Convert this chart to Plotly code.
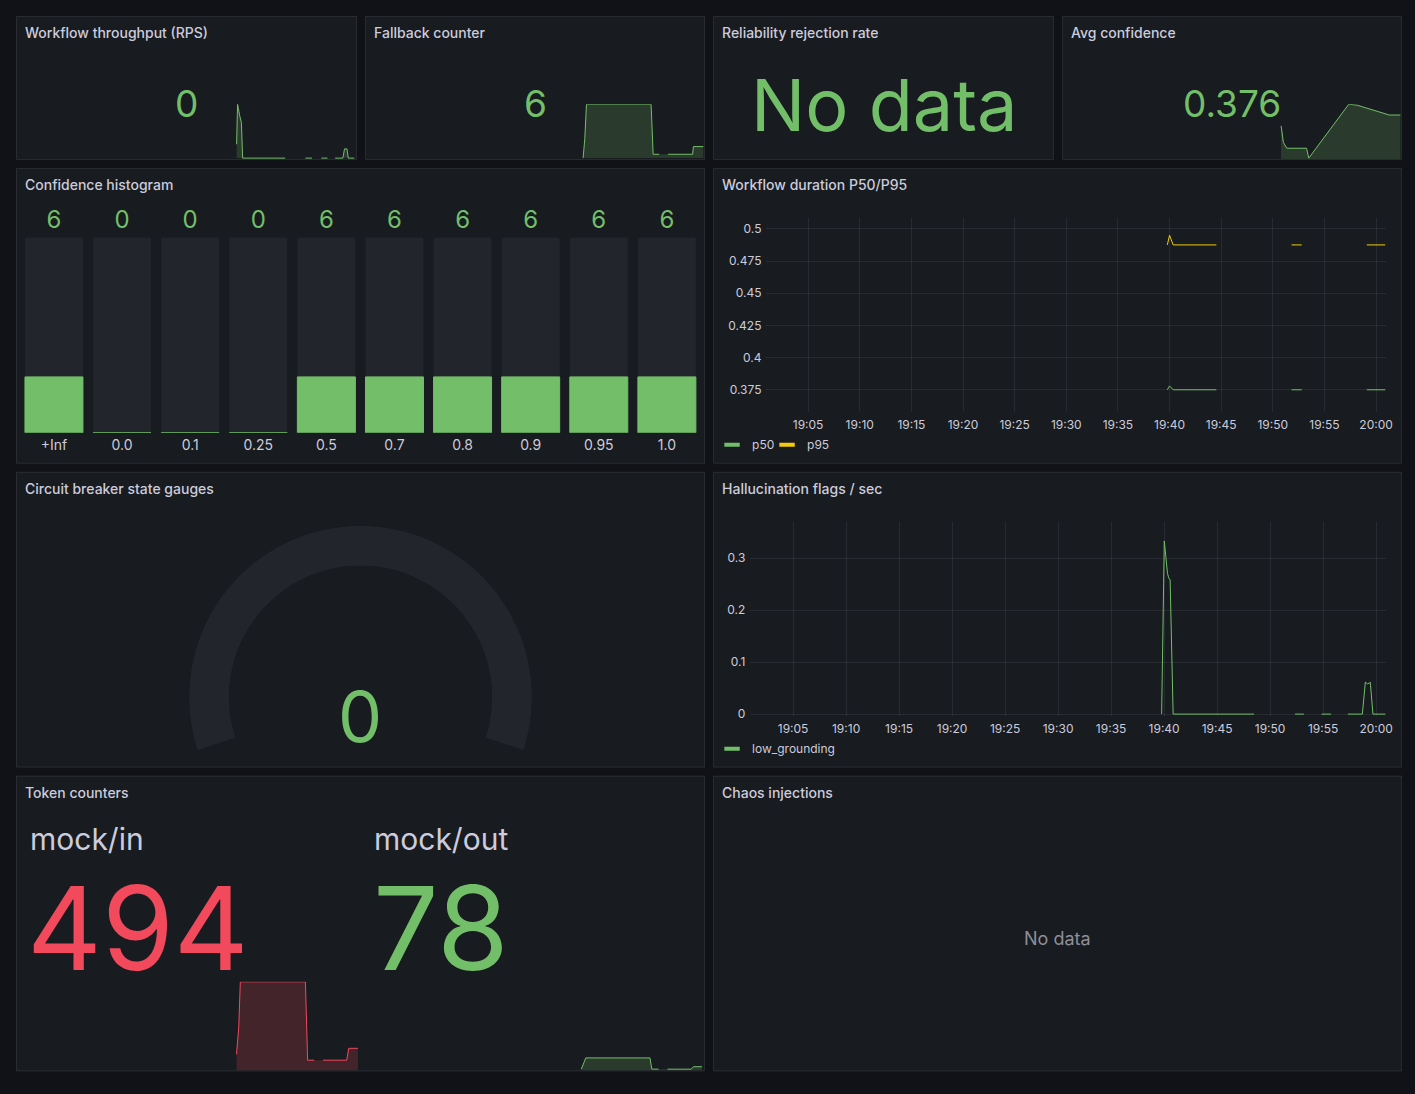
import plotly.graph_objects as go

W, H = 1415, 1094
DAY = "2024-05-01 "

# ------------------------------------------------------------------ data
time_window = ["19:00:58", "20:00:58"]

# Workflow throughput (RPS) sparkline
thr_time = ["19:39:50", "19:40:00", "19:40:23", "19:40:41", "19:40:54", "19:48:25",
            "19:50:00", "19:52:00", "19:53:10", "19:54:00", "19:54:50", "19:55:55",
            "19:56:30", "19:57:16", "19:58:38", "19:58:56", "19:59:22", "19:59:36", "20:00:40"]
thr_vals = [0.09, 0.35, 0.275, 0.23, 0, 0,
            None, 0, 0, None, 0, 0,
            None, 0, 0, 0.06, 0.06, 0, 0]

# Fallback counter sparkline
fb_time = ["19:39:30", "19:39:48", "19:40:06", "19:51:34", "19:51:56", "19:53:00",
           "19:54:00", "19:54:35", "19:58:56", "19:59:05", "20:00:51"]
fb_vals = [0, 10, 28, 28, 2, 2, None, 2, 2, 6, 6]

# Avg confidence sparkline
ac_time = ["19:39:40", "19:40:05", "19:40:41", "19:44:11", "19:44:35", "19:51:41",
           "19:53:09", "19:58:53", "20:00:51"]
ac_vals = [0.352, 0.315, 0.302, 0.302, 0.28, 0.40, 0.398, 0.376, 0.376]

# Confidence histogram (bar gauge)
hist_buckets = ["+Inf", "0.0", "0.1", "0.25", "0.5", "0.7", "0.8", "0.9", "0.95", "1.0"]
hist_counts = [6, 0, 0, 0, 6, 6, 6, 6, 6, 6]
hist_scale_max = 21

# Workflow duration P50/P95
dur_time = ["19:39:47", "19:40:00", "19:40:21", "19:44:32", "19:48:00", "19:51:49",
            "19:52:48", "19:56:00", "19:59:06", "20:00:53"]
dur_p50 = [0.375, 0.378, 0.375, 0.375, None, 0.375, 0.375, None, 0.375, 0.375]
dur_p95 = [0.4875, 0.495, 0.4875, 0.4875, None, 0.4875, 0.4875, None, 0.4875, 0.4875]

# Hallucination flags / sec
hf_time = ["19:39:46", "19:40:01", "19:40:19", "19:40:26", "19:40:34", "19:40:51",
           "19:48:29", "19:50:00", "19:52:21", "19:53:11", "19:54:00", "19:54:51",
           "19:55:45", "19:56:30", "19:57:20", "19:58:42", "19:58:59", "19:59:12",
           "19:59:27", "19:59:42", "20:00:52"]
hf_low_grounding = [0, 0.333, 0.271, 0.262, 0.258, 0,
                    0, None, 0, 0, None, 0,
                    0, None, 0, 0, 0.0615, 0.058,
                    0.061, 0, 0]

# Circuit breaker gauge
gauge_value = 0
gauge_min, gauge_max = 0, 1

# Token counters
tok_in_time = ["19:39:22", "19:39:45", "19:40:02", "19:51:25", "19:51:48", "19:52:58",
               "19:54:00", "19:54:30", "19:58:38", "19:59:00", "20:00:36"]
tok_in_vals = [360, 963, 2000, 2000, 225, 225, None, 225, 225, 494, 494]
tok_out_time = ["19:39:30", "19:39:54", "19:40:17", "19:51:31", "19:51:50", "19:53:00",
                "19:54:00", "19:54:35", "19:58:44", "19:59:07", "20:00:36"]
tok_out_vals = [22, 174, 277, 277, 22, 22, None, 22, 22, 78, 78]

# ------------------------------------------------------------------ style
BG = "#111217"
PANEL = "#181b1f"
BORDER = "rgba(204,204,220,0.12)"
TXT = "#ccccdc"
MUTED = "#8e8e9a"
GREEN = "#73bf69"
RED = "#f2495c"
YELLOW = "#f2cc0c"
GRID = "rgba(204,204,220,0.09)"
TRACK = "#22252b"
FONT = "Inter, Roboto, sans-serif"

# the captured page comes out very slightly shrunk; compensate in the px->paper mapping
S = 0.995
WE, HE = W * S, H * S


def X(p):
    return p / WE


def Y(p):
    return 1 - p / HE


def ts(lst):
    return [DAY + t for t in lst]


def last_value(vals):
    return [v for v in vals if v is not None][-1]


def names(n):
    if n == 1:
        return "xaxis", "yaxis", "x", "y"
    return f"xaxis{n}", f"yaxis{n}", f"x{n}", f"y{n}"


fig = go.Figure()
axes = {}
shapes = []
annotations = []

panels = [
    (16, 16, 357, 160, "Workflow throughput (RPS)"),
    (365, 16, 705, 160, "Fallback counter"),
    (713, 16, 1054, 160, "Reliability rejection rate"),
    (1062, 16, 1402, 160, "Avg confidence"),
    (16, 168, 705, 464, "Confidence histogram"),
    (713, 168, 1402, 464, "Workflow duration P50/P95"),
    (16, 472, 705, 768, "Circuit breaker state gauges"),
    (713, 472, 1402, 768, "Hallucination flags / sec"),
    (16, 776, 705, 1072, "Token counters"),
    (713, 776, 1402, 1072, "Chaos injections"),
]
for x0, y0, x1, y1, title in panels:
    shapes.append(dict(type="rect", xref="paper", yref="paper",
                       x0=X(x0 + 0.5), x1=X(x1 - 0.5), y0=Y(y1 - 0.5), y1=Y(y0 + 0.5),
                       fillcolor=PANEL, line=dict(color=BORDER, width=1), layer="below"))
    annotations.append(dict(text=title, xref="paper", yref="paper",
                            x=X(x0 + 7), y=Y(y0 + 17), xanchor="left", yanchor="middle",
                            showarrow=False, font=dict(family=FONT, size=14, color=TXT, weight=500)))


def text(s, x, y, size, color, xanchor="center", weight=400):
    annotations.append(dict(text=s, xref="paper", yref="paper", x=X(x), y=Y(y),
                            xanchor=xanchor, yanchor="middle", showarrow=False,
                            font=dict(family=FONT, size=size, color=color, weight=weight)))


def fmt(v):
    return f"{v:g}"


def spark(n, times, vals, color, fill, box, lo, hi):
    # box = (left, top, right, bottom) in pixels
    xa, ya, xr, yr = names(n)
    fig.add_trace(go.Scatter(x=ts(times), y=vals, mode="lines",
                             line=dict(color=color, width=1), fill="tozeroy",
                             fillcolor=fill, connectgaps=False, hoverinfo="skip",
                             showlegend=False, xaxis=xr, yaxis=yr))
    pad = (hi - lo) * 0.015
    axes[xa] = dict(domain=[X(box[0]), X(box[2])], range=ts(time_window), type="date",
                    visible=False, anchor=yr, fixedrange=True)
    axes[ya] = dict(domain=[Y(box[3]), Y(box[1])], range=[lo - pad, hi], visible=False,
                    anchor=xr, fixedrange=True)


GFILL = "rgba(115,191,105,0.2)"
RFILL = "rgba(242,73,92,0.2)"

# --- stat panels
thr_nums = [v for v in thr_vals if v is not None]
spark(1, thr_time, thr_vals, GREEN, GFILL, (17, 104.3, 356, 159), min(thr_nums), max(thr_nums))
text(fmt(last_value(thr_vals)), 186, 104, 37, GREEN)

fb_nums = [v for v in fb_vals if v is not None]
spark(2, fb_time, fb_vals, GREEN, GFILL, (366, 104.3, 704, 159), min(fb_nums), max(fb_nums))
text(fmt(last_value(fb_vals)), 535, 104, 37, GREEN)

text("No data", 884, 105, 72, GREEN)

spark(3, ac_time, ac_vals, GREEN, GFILL, (1063, 104.3, 1401, 159), min(ac_vals), max(ac_vals))
text(fmt(last_value(ac_vals)), 1232, 104, 37, GREEN)

# --- confidence histogram (bar gauge)
fig.add_trace(go.Bar(x=hist_buckets, y=[hist_scale_max] * len(hist_buckets),
                     marker=dict(color=TRACK, cornerradius=2, line=dict(width=0)),
                     text=[str(v) for v in hist_counts], textposition="outside",
                     textfont=dict(family=FONT, size=24, color=GREEN),
                     cliponaxis=False, hoverinfo="skip", showlegend=False,
                     xaxis="x4", yaxis="y4"))
fig.add_trace(go.Bar(x=hist_buckets, y=hist_counts,
                     marker=dict(color=GREEN, cornerradius=2, line=dict(width=1, color=GREEN)),
                     cliponaxis=False, hoverinfo="skip", showlegend=False,
                     xaxis="x4", yaxis="y4"))
axes["xaxis4"] = dict(domain=[X(19.9), X(700.9)], type="category", anchor="y4",
                      showgrid=False, zeroline=False, showline=False, ticks="",
                      tickfont=dict(family=FONT, size=14, color=TXT), ticklabelstandoff=2,
                      fixedrange=True)
axes["yaxis4"] = dict(domain=[Y(433), Y(237.3)], range=[0, hist_scale_max], visible=False,
                      anchor="x4", fixedrange=True)

# --- workflow duration
fig.add_trace(go.Scatter(x=ts(dur_time), y=dur_p50, mode="lines", line=dict(color=GREEN, width=1),
                         connectgaps=False, showlegend=False, xaxis="x5", yaxis="y5"))
fig.add_trace(go.Scatter(x=ts(dur_time), y=dur_p95, mode="lines", line=dict(color=YELLOW, width=1),
                         connectgaps=False, showlegend=False, xaxis="x5", yaxis="y5"))
for nm, col, lg in (("p50", GREEN, "legend"), ("p95", YELLOW, "legend3")):
    fig.add_trace(go.Scatter(x=[None], y=[None], mode="markers", name=nm,
                             marker=dict(symbol="line-ew", size=11, color=col,
                                         line=dict(width=4, color=col)),
                             legend=lg, xaxis="x5", yaxis="y5"))

time_axis = dict(type="date", range=ts(time_window), tickformat="%H:%M", dtick=300000,
                 tick0=DAY + "19:00:00", showgrid=True, gridcolor=GRID, gridwidth=1,
                 zeroline=False, showline=False, ticks="",
                 tickfont=dict(family=FONT, size=12, color=TXT), fixedrange=True)
val_axis = dict(showgrid=True, gridcolor=GRID, gridwidth=1, zeroline=False, showline=False,
                ticks="", tickfont=dict(family=FONT, size=12, color=TXT), fixedrange=True)

axes["xaxis5"] = dict(time_axis, domain=[X(766.4), X(1386)], anchor="y5", ticklabelstandoff=4)
axes["yaxis5"] = dict(val_axis, domain=[Y(412), Y(218)], range=[0.3579, 0.5085],
                      dtick=0.025, tick0=0, anchor="x5", ticklabelstandoff=4)

# --- hallucination flags
fig.add_trace(go.Scatter(x=ts(hf_time), y=hf_low_grounding, mode="lines",
                         line=dict(color=GREEN, width=1), connectgaps=False,
                         showlegend=False, xaxis="x6", yaxis="y6"))
fig.add_trace(go.Scatter(x=[None], y=[None], mode="markers", name="low_grounding",
                         marker=dict(symbol="line-ew", size=11, color=GREEN,
                                     line=dict(width=4, color=GREEN)),
                         legend="legend2", xaxis="x6", yaxis="y6"))
axes["xaxis6"] = dict(time_axis, domain=[X(750.3), X(1386.3)], anchor="y6", ticklabelstandoff=4)
axes["yaxis6"] = dict(val_axis, domain=[Y(716), Y(522)], range=[-0.003, 0.37],
                      dtick=0.1, tick0=0, anchor="x6", ticklabelstandoff=4)

# --- circuit breaker gauge
arc_span = 216
arc_start = 198
fig.add_trace(go.Barpolar(r=[1], theta=[90], width=[arc_span],
                          marker=dict(color=TRACK, line=dict(width=0)),
                          hoverinfo="skip", showlegend=False, subplot="polar"))
frac = (gauge_value - gauge_min) / (gauge_max - gauge_min)
if frac > 0:
    fig.add_trace(go.Barpolar(r=[1], theta=[arc_start - arc_span * frac / 2],
                              width=[arc_span * frac],
                              marker=dict(color=GREEN, line=dict(width=0)),
                              hoverinfo="skip", showlegend=False, subplot="polar"))
text(fmt(gauge_value), 360, 717, 70, GREEN)

# --- token counters
tok_all = [v for v in tok_in_vals + tok_out_vals if v is not None]
spark(7, tok_in_time, tok_in_vals, RED, RFILL, (17, 982.3, 360, 1071), min(tok_all), max(tok_all))
spark(8, tok_out_time, tok_out_vals, GREEN, GFILL, (361, 982.3, 704, 1071), min(tok_all), max(tok_all))
text("mock/in", 28, 839, 30, TXT, xanchor="left")
text("mock/out", 372, 839, 30, TXT, xanchor="left")
text(fmt(last_value(tok_in_vals)), 25, 928, 116, RED, xanchor="left")
text(fmt(last_value(tok_out_vals)), 371, 928, 116, GREEN, xanchor="left")

# --- chaos injections
text("No data", 1057, 939, 18, MUTED)

legend_style = dict(xanchor="left", yanchor="middle", orientation="h",
                    font=dict(family=FONT, size=12, color=TXT), bgcolor="rgba(0,0,0,0)",
                    itemwidth=30, itemsizing="trace")

fig.update_layout(
    width=W, height=H, margin=dict(l=0, r=0, t=0, b=0),
    paper_bgcolor=BG, plot_bgcolor="rgba(0,0,0,0)",
    font=dict(family=FONT, color=TXT),
    shapes=shapes, annotations=annotations,
    barmode="overlay", bargap=0.1485,
    polar=dict(domain=dict(x=[X(189), X(532)], y=[Y(750.5), Y(526)]),
               sector=[-18, 198], hole=0.767, bgcolor="rgba(0,0,0,0)",
               angularaxis=dict(visible=False, rotation=0, direction="counterclockwise"),
               radialaxis=dict(visible=False, range=[0, 1])),
    legend=dict(legend_style, x=X(712), y=Y(445)),
    legend3=dict(legend_style, x=X(767), y=Y(445)),
    legend2=dict(legend_style, x=X(712), y=Y(749)),
    hovermode=False,
    **axes,
)

fig.write_html("out.html")
